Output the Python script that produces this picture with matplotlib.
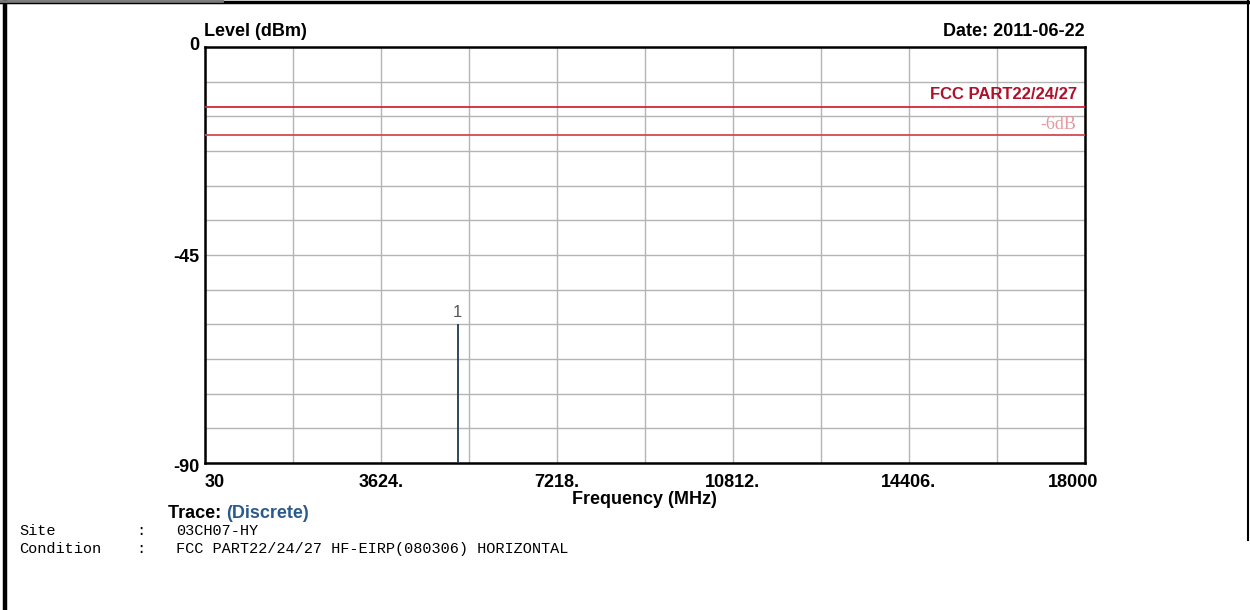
import matplotlib
matplotlib.use("Agg")
import matplotlib.pyplot as plt
import matplotlib.transforms as mtransforms
from matplotlib.lines import Line2D
import numpy as np

# ---- data ----
x_ticks = [30, 3624, 7218, 10812, 14406, 18000]
x_tick_labels = ["30", "3624.", "7218.", "10812.", "14406.", "18000"]
y_ticks = [0, -45, -90]
y_tick_labels = ["0", "-45", "-90"]
limit_level = -13.0          # FCC PART22/24/27
limit_6db_level = -19.0      # -6dB
peak_freqs = [5190]
peak_levels = [-60.0]
peak_labels = ["1"]
date_text = "Date: 2011-06-22"
site_text = "03CH07-HY"
condition_text = "FCC PART22/24/27 HF-EIRP(080306) HORIZONTAL"

plt.rcParams['font.family'] = ['Liberation Sans', 'DejaVu Sans']

fig = plt.figure(figsize=(12.5, 6.1), dpi=100)
W, H = 1250, 610
ax = fig.add_axes([205 / W, 1 - 463 / H, 880 / W, 416 / H])

xmin, xmax = 30, 18000
ymin, ymax = -90, 0
ax.set_xlim(xmin, xmax)
ax.set_ylim(ymin, ymax)

# grid: 10 x divisions, 12 y divisions
ax.set_xticks(x_ticks)
ax.set_xticklabels(x_tick_labels, fontsize=13, fontweight='bold')
ax.set_xticks(np.linspace(xmin, xmax, 11), minor=True)
ax.set_yticks(y_ticks)
ax.set_yticklabels(y_tick_labels, fontsize=13, fontweight='bold')
ax.set_yticks(np.linspace(ymin, ymax, 13), minor=True)
ax.grid(True, which='both', color='#b4b4b4', linewidth=1.0)
ax.set_axisbelow(True)
ax.tick_params(which='both', length=0)
ax.tick_params(axis='x', pad=8)
ax.tick_params(axis='y', pad=4)

for sp in ax.spines.values():
    sp.set_linewidth(1.8)
    sp.set_color('black')

# adjust first/last x tick label alignment
xl = ax.get_xticklabels()
xl[0].set_horizontalalignment('left')
xl[-1].set_transform(xl[-1].get_transform() +
                     mtransforms.ScaledTranslation(-0.12, 0, fig.dpi_scale_trans))
# y labels vertical nudge
yl = ax.get_yticklabels()
yl[0].set_transform(yl[0].get_transform() +
                    mtransforms.ScaledTranslation(0, 0.04, fig.dpi_scale_trans))
yl[-1].set_transform(yl[-1].get_transform() +
                     mtransforms.ScaledTranslation(0, -0.02, fig.dpi_scale_trans))

# limit lines
ax.axhline(limit_level, color='#d2283a', linewidth=1.3, zorder=3)
ax.axhline(limit_6db_level, color='#d24a55', linewidth=1.3, zorder=3)
ax.text(17830, limit_level + 1.1, "FCC PART22/24/27", color='#b0102a',
        fontsize=12, fontweight='bold', ha='right', va='bottom')
ax.text(17830, limit_6db_level + 0.5, "-6dB", color='#e39aa0',
        fontsize=13, family='Liberation Serif', ha='right', va='bottom')

# discrete peaks
for f, lv, lab in zip(peak_freqs, peak_levels, peak_labels):
    ax.vlines(f, ymin, lv, color='#1f3a55', linewidth=1.3, zorder=4)
    ax.text(f, lv + 0.9, lab, color='#555555', fontsize=12,
            ha='center', va='bottom')

# titles
fig.text(204 / W, 1 - 31 / H, "Level (dBm)", fontsize=13, fontweight='bold',
         ha='left', va='center')
fig.text(1085 / W, 1 - 31 / H, date_text, fontsize=13, fontweight='bold',
         ha='right', va='center')
fig.text(644 / W, 1 - 500 / H, "Frequency (MHz)", fontsize=13,
         fontweight='bold', ha='center', va='center')

# trace line
t1 = fig.text(168 / W, 1 - 514 / H, "Trace: ", fontsize=13, fontweight='bold',
              ha='left', va='center')
fig.canvas.draw()
bb = t1.get_window_extent()
fig.text(bb.x1 / W, 1 - 514 / H, "(Discrete)", fontsize=13,
         fontweight='bold', color='#2a5a8c', ha='left', va='center')

mono = dict(family='Liberation Mono', fontsize=11, va='center', ha='left')
fig.text(19 / W, 1 - 531 / H, "Site", **mono)
fig.text(136 / W, 1 - 531 / H, ":", **mono)
fig.text(176 / W, 1 - 531 / H, site_text, **mono)
fig.text(19 / W, 1 - 549 / H, "Condition", **mono)
fig.text(136 / W, 1 - 549 / H, ":", **mono)
fig.text(176 / W, 1 - 549 / H, condition_text, **mono)

# outer frame
fig.add_artist(Line2D([4.5 / W, 4.5 / W], [0, 1], color='black', linewidth=3.2,
                      transform=fig.transFigure))
fig.add_artist(Line2D([0, 1], [1 - 1.5 / H, 1 - 1.5 / H], color='black',
                      linewidth=2.5, transform=fig.transFigure))
fig.add_artist(Line2D([0, 222 / W], [1 - 1 / H, 1 - 1 / H], color='#777777',
                      linewidth=2.0, transform=fig.transFigure))
fig.add_artist(Line2D([1248 / W, 1248 / W], [1, 1 - 540 / H], color='black',
                      linewidth=1.5, transform=fig.transFigure))

fig.savefig("out.png", dpi=100)
